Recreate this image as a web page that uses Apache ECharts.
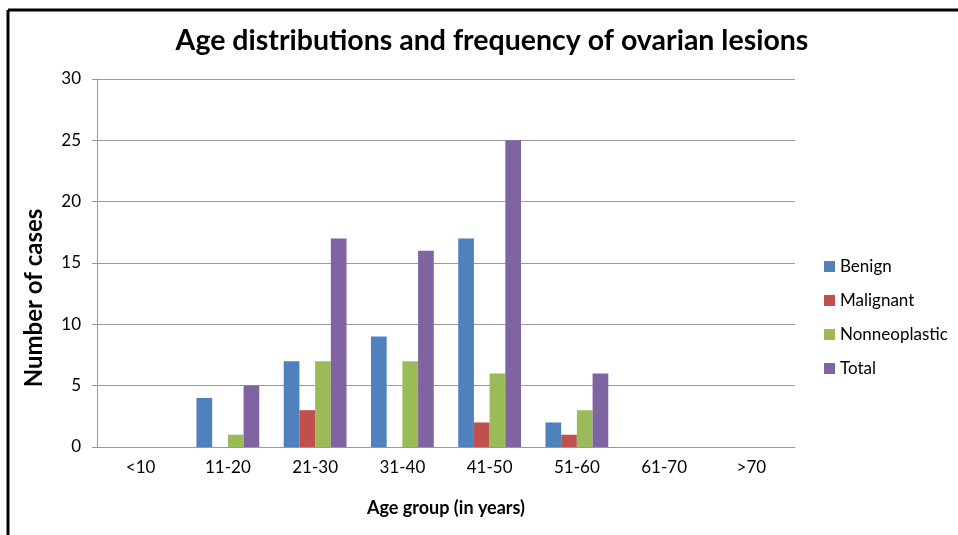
<!DOCTYPE html>
<html><head><meta charset="utf-8">
<script src="https://cdn.jsdelivr.net/npm/echarts@6/dist/echarts.min.js"></script>
<style>html,body{margin:0;padding:0;background:#fff}#c{width:958px;height:535px}</style>
</head><body><div id="c"></div>
<script>
const categories = ['<10','11-20','21-30','31-40','41-50','51-60','61-70','>70'];
const benign = [0,4,7,9,17,2,0,0];
const malignant = [0,0,3,0,2,1,0,0];
const nonneoplastic = [0,1,7,7,6,3,0,0];
const total = [0,5,17,16,25,6,0,0];
const seriesNames = ['Benign','Malignant','Nonneoplastic','Total'];
const colors = ['#4F81BD','#C0504D','#9BBB59','#8064A2'];
const FONT = 'Lato, "Open Sans", sans-serif';
const chart = echarts.init(document.getElementById('c'), null, {renderer:'canvas'});
const dataSets = [benign, malignant, nonneoplastic, total];
chart.setOption({
  animation:false,
  title:{text:'Age distributions and frequency of ovarian lesions', left:487, top:21, textAlign:'center',
    textStyle:{fontFamily:FONT, fontWeight:'bold', fontSize:28.5, color:'#000'}},
  legend:{orient:'vertical', left:819, top:253, itemWidth:11, itemHeight:11, itemGap:17,
    icon:'rect', textStyle:{fontFamily:FONT, fontSize:17, color:'#000'}, data:seriesNames},
  grid:{left:97, right:163, top:79, bottom:88},
  xAxis:{type:'category', data:categories,
    name:'Age group (in years)', nameLocation:'middle', nameGap:52,
    nameTextStyle:{fontFamily:FONT, fontWeight:'bold', fontSize:18, color:'#000'},
    axisLine:{lineStyle:{color:'#999', width:1}}, axisTick:{show:false},
    axisLabel:{fontFamily:FONT, fontSize:17, color:'#000', margin:12}},
  yAxis:{type:'value', min:0, max:30, interval:5,
    axisLine:{show:true, lineStyle:{color:'#999'}}, axisTick:{show:true, length:5, lineStyle:{color:'#999'}},
    splitLine:{lineStyle:{color:'#999'}},
    axisLabel:{fontFamily:FONT, fontSize:17, color:'#000', margin:16}},
  series: seriesNames.map((n,i)=>({name:n, type:'bar', data:dataSets[i], barGap:'0%', barCategoryGap:'28%',
    itemStyle:{color:colors[i]}})),
  graphic:[
    {type:'line', shape:{x1:8, y1:10, x2:958, y2:10}, style:{stroke:'#000', lineWidth:3}},
    {type:'line', shape:{x1:8, y1:10, x2:8, y2:535}, style:{stroke:'#000', lineWidth:3}},
    {type:'text', x:34, y:298, rotation:Math.PI/2,
      style:{text:'Number of cases', fontFamily:FONT, fontWeight:'bold', fontSize:24, fill:'#000',
        align:'center', verticalAlign:'middle'}}
  ]
});
</script></body></html>
